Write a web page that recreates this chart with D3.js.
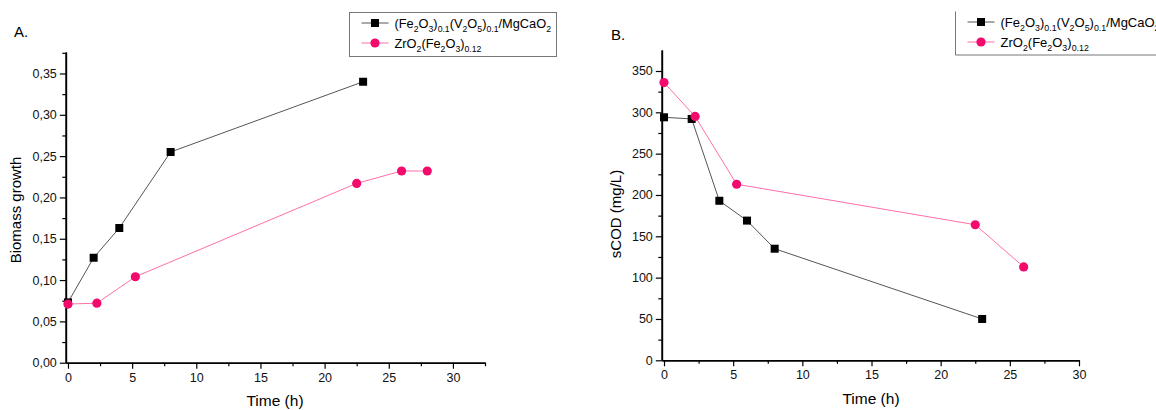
<!DOCTYPE html>
<html>
<head>
<meta charset="utf-8">
<script src="https://cdn.jsdelivr.net/npm/d3@7"></script>
<style>
  body { margin: 0; background: #fff; }
  svg { display: block; font-family: "Liberation Sans", Arial, sans-serif; }
</style>
</head>
<body>
<svg id="chart" width="1156" height="410"></svg>
<script>
// ---------- DATA ----------
const seriesNames = ["(Fe2O3)0.1(V2O5)0.1/MgCaO2", "ZrO2(Fe2O3)0.12"];

const timeA_fe = [0, 2, 4, 8, 23];
const biomass_fe = [0.073, 0.127, 0.163, 0.255, 0.340];
const timeA_zr = [0, 2.25, 5.25, 22.5, 26, 28];
const biomass_zr = [0.071, 0.072, 0.104, 0.217, 0.232, 0.232];

const timeB_fe = [0, 2, 4, 6, 8, 23];
const scod_fe = [294, 292, 193, 169, 135, 50];
const timeB_zr = [0, 2.25, 5.25, 22.5, 26];
const scod_zr = [336, 295, 213, 164, 113];

const xTicks = [0, 5, 10, 15, 20, 25, 30];
const xMinorTicks = [2.5, 7.5, 12.5, 17.5, 22.5, 27.5, 32.5];
const yTicksA = [0, 0.05, 0.10, 0.15, 0.20, 0.25, 0.30, 0.35];
const yMinorA = [0.025, 0.075, 0.125, 0.175, 0.225, 0.275, 0.325, 0.375];
const yTicksB = [0, 50, 100, 150, 200, 250, 300, 350];
const yMinorB = [25, 75, 125, 175, 225, 275, 325];

// ---------- STYLE ----------
const blackLine = "#555", blackFill = "#000";
const pinkLine = "#ff6fab", pinkFill = "#f20a6c";

const svg = d3.select("#chart");

function legendLabel(g, x, y, parts, fs) {
  const t = g.append("text").attr("x", x).attr("y", y).attr("font-size", fs).attr("fill", "#000");
  let prevSub = false;
  const sh = fs * 0.32;
  parts.forEach(([s, sub]) => {
    const ts = t.append("tspan").text(s);
    if (sub) { ts.attr("font-size", fs * 0.68); if (!prevSub) ts.attr("dy", sh); }
    else if (prevSub) ts.attr("dy", -sh);
    prevSub = sub;
  });
  return t;
}
const feParts = [["(Fe",0],["2",1],["O",0],["3",1],[")",0],["0.1",1],["(V",0],["2",1],["O",0],["5",1],[")",0],["0.1",1],["/MgCaO",0],["2",1]];
const zrParts = [["ZrO",0],["2",1],["(Fe",0],["2",1],["O",0],["3",1],[")",0],["0.12",1]];

function panel(cfg) {
  const g = svg.append("g");
  const x = d3.scaleLinear().domain(cfg.xDomain).range(cfg.xRange);
  const y = d3.scaleLinear().domain(cfg.yDomain).range(cfg.yRange);
  const y0 = cfg.yRange[0];
  const x0 = cfg.xRange[0];

  g.append("g").attr("transform", `translate(0,${y0})`)
    .call(d3.axisBottom(x).tickValues(xTicks).tickSize(6).tickSizeOuter(0).tickPadding(4).tickFormat(d3.format("d")));
  g.append("g").attr("transform", `translate(0,${y0})`)
    .call(d3.axisBottom(x).tickValues(xMinorTicks.filter(v => v <= cfg.xDomain[1] + 0.01)).tickSize(3.5).tickSizeOuter(0).tickFormat(""));
  g.append("g").attr("transform", `translate(${x0},0)`)
    .call(d3.axisLeft(y).tickValues(cfg.yTicks).tickSize(6).tickSizeOuter(0).tickPadding(3).tickFormat(cfg.yFormat));
  g.append("g").attr("transform", `translate(${x0},0)`)
    .call(d3.axisLeft(y).tickValues(cfg.yMinor).tickSize(3.5).tickSizeOuter(0).tickFormat(""));

  g.selectAll(".domain").attr("stroke", "#000").attr("stroke-width", 1.6);
  g.selectAll(".tick line").attr("stroke", "#000").attr("stroke-width", 1.2);
  g.selectAll(".tick text").attr("font-size", 12.5).attr("fill", "#111")
    .attr("font-family", "'Liberation Sans', Arial, sans-serif");

  g.append("text").attr("x", cfg.xTitlePos[0]).attr("y", cfg.xTitlePos[1])
    .attr("text-anchor", "middle").attr("font-size", 15.5).text("Time (h)");
  g.append("text").attr("transform", `translate(${cfg.yTitlePos[0]},${cfg.yTitlePos[1]}) rotate(-90)`)
    .attr("text-anchor", "middle").attr("font-size", 15).text(cfg.yTitle);
  g.append("text").attr("x", cfg.letterPos[0]).attr("y", cfg.letterPos[1])
    .attr("font-size", 15).text(cfg.letter);

  const line = d3.line().x(d => x(d[0])).y(d => y(d[1]));
  const feData = cfg.feX.map((t, i) => [t, cfg.feY[i]]);
  const zrData = cfg.zrX.map((t, i) => [t, cfg.zrY[i]]);

  g.append("path").datum(feData).attr("d", line).attr("fill", "none").attr("stroke", blackLine).attr("stroke-width", 1);
  g.append("path").datum(zrData).attr("d", line).attr("fill", "none").attr("stroke", pinkLine).attr("stroke-width", 1);

  g.selectAll(".sq").data(feData).join("rect").attr("class", "sq")
    .attr("x", d => x(d[0]) - 4).attr("y", d => y(d[1]) - 4).attr("width", 8).attr("height", 8).attr("fill", blackFill);
  g.selectAll(".ci").data(zrData).join("circle").attr("class", "ci")
    .attr("cx", d => x(d[0])).attr("cy", d => y(d[1])).attr("r", 4.6).attr("fill", pinkFill);

  // legend
  const L = cfg.legend;
  const lg = g.append("g");
  if (L.box) {
    lg.append("rect").attr("x", L.x).attr("y", L.y).attr("width", L.w).attr("height", L.h)
      .attr("fill", "#fff").attr("stroke", "#777").attr("stroke-width", 1);
  } else {
    lg.append("path").attr("d", `M${L.x},${L.y}V${L.y + L.h}H${L.x + L.w}`)
      .attr("fill", "none").attr("stroke", "#777").attr("stroke-width", 1);
  }
  const rows = [L.y + 10.5, L.y + 30.5];
  const lx0 = L.x + 12, lx1 = L.x + 39, lm = (lx0 + lx1) / 2;
  lg.append("line").attr("x1", lx0).attr("x2", lx1).attr("y1", rows[0]).attr("y2", rows[0]).attr("stroke", blackLine);
  lg.append("rect").attr("x", lm - 4).attr("y", rows[0] - 4).attr("width", 8).attr("height", 8).attr("fill", blackFill);
  lg.append("line").attr("x1", lx0).attr("x2", lx1).attr("y1", rows[1]).attr("y2", rows[1]).attr("stroke", pinkLine);
  lg.append("circle").attr("cx", lm).attr("cy", rows[1]).attr("r", 4.6).attr("fill", pinkFill);
  legendLabel(lg, L.x + 45, rows[0] + 4.5, feParts, L.fs);
  legendLabel(lg, L.x + 45, rows[1] + 4.5, zrParts, L.fs);
}

const commaFmt = v => d3.format(".2f")(v).replace(".", ",");

panel({
  xDomain: [-0.17, 32.5], xRange: [65.8, 485],
  yDomain: [0, 0.376], yRange: [362.7, 52],
  yTicks: yTicksA, yMinor: yMinorA, yFormat: commaFmt,
  feX: timeA_fe, feY: biomass_fe, zrX: timeA_zr, zrY: biomass_zr,
  xTitlePos: [275, 406], yTitlePos: [21, 210], yTitle: "Biomass growth",
  letter: "A.", letterPos: [14, 37],
  legend: { box: true, x: 349.5, y: 12.5, w: 207, h: 44, fs: 12.8 }
});

panel({
  xDomain: [-0.16, 30], xRange: [661.8, 1079],
  yDomain: [0, 375.4], yRange: [360.3, 50],
  yTicks: yTicksB, yMinor: yMinorB, yFormat: d3.format("d"),
  feX: timeB_fe, feY: scod_fe, zrX: timeB_zr, zrY: scod_zr,
  xTitlePos: [871, 404], yTitlePos: [621, 214], yTitle: "sCOD (mg/L)",
  letter: "B.", letterPos: [611, 40],
  legend: { box: false, x: 955.5, y: 11.5, w: 220, h: 43.5, fs: 13.0 }
});
</script>
</body>
</html>
